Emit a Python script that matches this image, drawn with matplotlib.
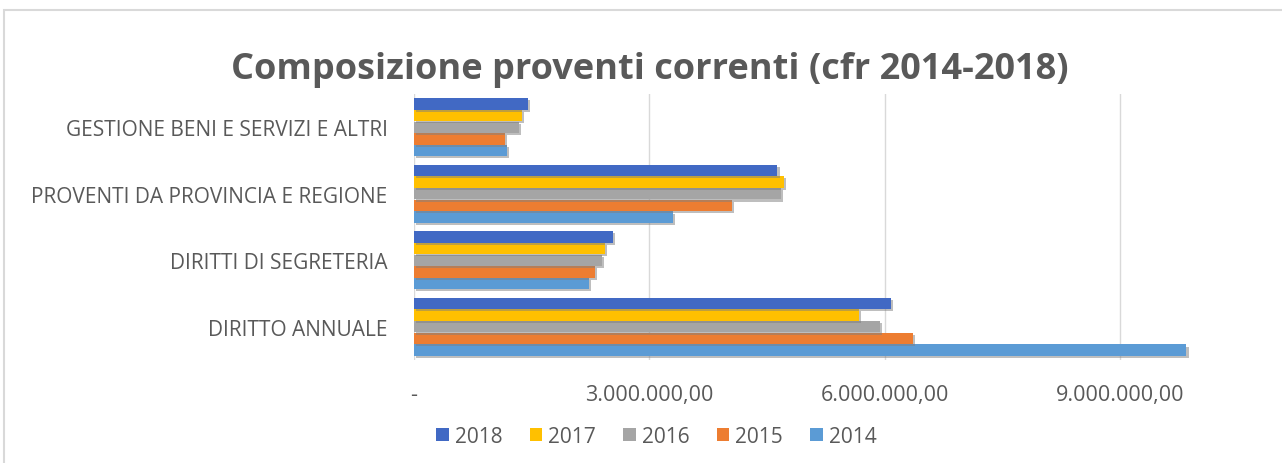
import numpy as np
import matplotlib
matplotlib.use("Agg")
import matplotlib.pyplot as plt
from matplotlib import patheffects as pe
from matplotlib.ticker import FuncFormatter
from matplotlib.patches import Rectangle

plt.rcParams['font.family'] = ['Open Sans', 'DejaVu Sans']

# categories from bottom to top
categories = ['DIRITTO ANNUALE', 'DIRITTI DI SEGRETERIA',
              'PROVENTI DA PROVINCIA E REGIONE', 'GESTIONE BENI E SERVIZI E ALTRI']
years = ['2014', '2015', '2016', '2017', '2018']
v2014 = [9840000, 2230000, 3300000, 1190000]
v2015 = [6360000, 2300000, 4050000, 1160000]
v2016 = [5940000, 2400000, 4680000, 1340000]
v2017 = [5670000, 2430000, 4710000, 1370000]
v2018 = [6080000, 2530000, 4630000, 1450000]
series = [v2014, v2015, v2016, v2017, v2018]
colors = ['#5B9BD5', '#ED7D31', '#A5A5A5', '#FFC000', '#4169C4']

fig = plt.figure(figsize=(12.82, 4.64), dpi=100)
fig.patches.append(Rectangle((4 / 1282, -0.05), 1.1, 1 - 11 / 464 + 0.05,
                             transform=fig.transFigure, fill=False,
                             edgecolor='#D9D9D9', linewidth=1.5))
ax = fig.add_axes([414 / 1282, 103 / 464, 785 / 1282, 266 / 464])

y = np.arange(len(categories))
h = 0.176
shadow = [pe.SimplePatchShadow(offset=(1.5, -1.5), shadow_rgbFace='#7F7F7F', alpha=0.5), pe.Normal()]
for i, (vals, col, yr) in enumerate(zip(series, colors, years)):
    off = (i - 2) * h
    ax.barh(y + off, vals, height=h * 0.98, color=col, label=yr,
            path_effects=shadow, zorder=3)

ax.set_xlim(0, 10.0e6)
ax.set_ylim(-0.5, len(categories) - 0.5)
ax.set_xticks([0, 3e6, 6e6, 9e6])


def it_fmt(v, pos):
    if v == 0:
        return '-'
    s = f'{v:,.2f}'
    return s.replace(',', 'X').replace('.', ',').replace('X', '.')


ax.xaxis.set_major_formatter(FuncFormatter(it_fmt))
ax.set_yticks(y)
ax.set_yticklabels(categories)
ax.tick_params(axis='both', length=0, labelcolor='#595959')
ax.tick_params(axis='x', pad=17, labelsize=15.5)
ax.tick_params(axis='y', pad=19, labelsize=15)
ax.grid(axis='x', color='#D9D9D9', linewidth=1, zorder=0)
for s in ax.spines.values():
    s.set_visible(False)

fig.text(0.507, 0.85, 'Composizione proventi correnti (cfr 2014-2018)',
         ha='center', va='center', fontsize=26, fontweight='bold', color='#595959')

handles, labels = ax.get_legend_handles_labels()
leg = fig.legend(handles[::-1], labels[::-1], loc='center', bbox_to_anchor=(0.512, 0.058),
                 ncol=5, frameon=False, fontsize=15, handlelength=0.6, handleheight=0.6,
                 handletextpad=0.3, columnspacing=1.3)
for t in leg.get_texts():
    t.set_color('#595959')
for hnd in leg.legend_handles:
    hnd.set_path_effects([])

fig.savefig('out.png', dpi=100)
